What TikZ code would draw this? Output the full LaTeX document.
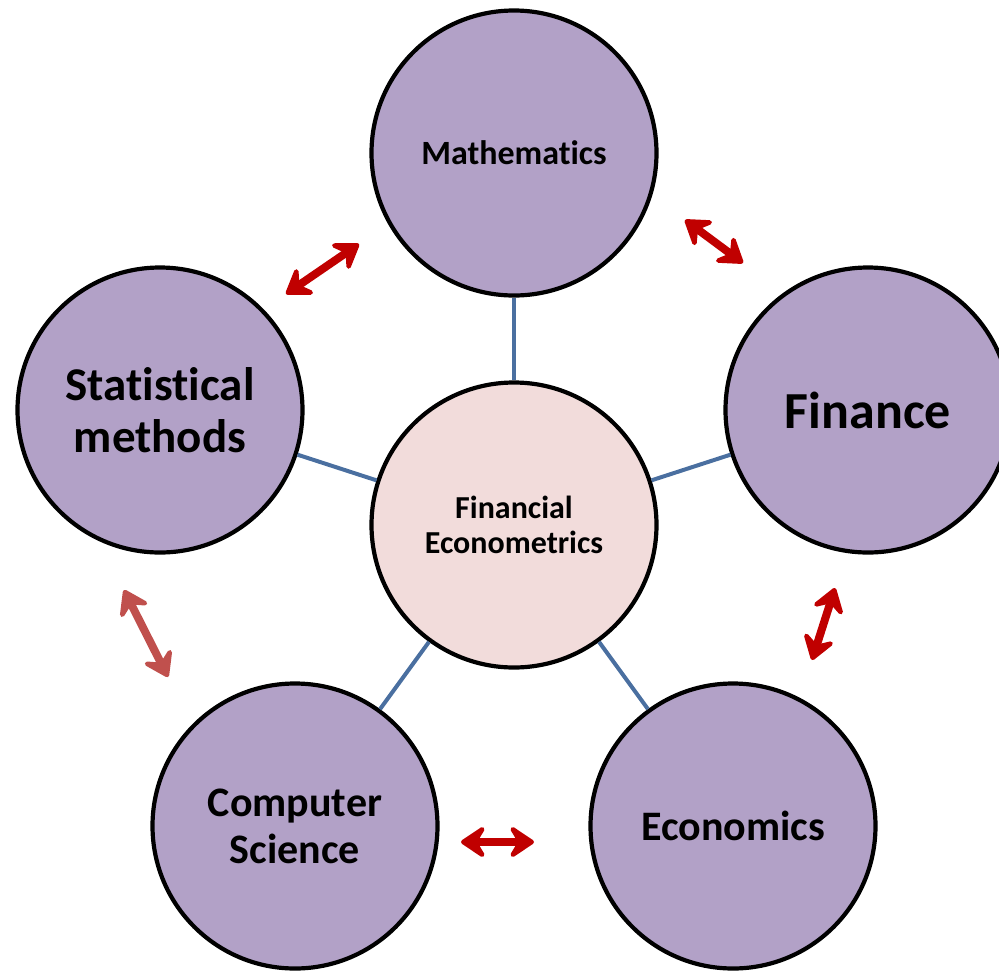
\documentclass[tikz,border=0pt]{standalone}
\usepackage{fontspec}
\setmainfont{Carlito}[Ligatures=NoCommon]
\usetikzlibrary{arrows.meta}
\definecolor{lav}{HTML}{B2A1C7}
\definecolor{pinkc}{HTML}{F2DCDB}
\definecolor{linkblue}{HTML}{4A6FA0}
\definecolor{darkred}{HTML}{C00000}
\definecolor{softred}{HTML}{C0504D}
\tikzset{
  topic/.style={circle, draw=black, line width=4.2pt, fill=lav, minimum size=285pt, inner sep=0pt, align=center},
  hub/.style={topic, fill=pinkc},
  link/.style={draw=linkblue, line width=4pt},
  redtip/.tip={Stealth[length=30pt,width=40pt,inset=12pt,round]},
  dbl/.style={line width=8pt, draw=darkred, redtip-redtip},
}
\begin{document}
\begin{tikzpicture}[x=1pt,y=-1pt]
\useasboundingbox (0,0) rectangle (999,970);
\node[hub, font={\bfseries\fontsize{32}{35}\selectfont}] (fe) at (514,525) {Financial\\Econometrics};
\node[topic, font={\bfseries\fontsize{34}{38}\selectfont}] (math) at (514,153) {Mathematics};
\node[topic, font={\bfseries\fontsize{47}{52}\selectfont}] (stat) at (160,410) {Statistical\\methods};
\node[topic, font={\bfseries\fontsize{52}{56}\selectfont}] (fin) at (868,410) {Finance};
\node[topic, font={\bfseries\fontsize{42}{47}\selectfont}] (cs) at (295,826) {Computer\\Science};
\node[topic, font={\bfseries\fontsize{42}{46}\selectfont}] (eco) at (733,826) {Economics};
\draw[link] (fe) -- (math);
\draw[link] (fe) -- (stat);
\draw[link] (fe) -- (fin);
\draw[link] (fe) -- (cs);
\draw[link] (fe) -- (eco);
\coordinate (a1) at (286,294); \coordinate (b1) at (359,244);
\coordinate (a2) at (685,220); \coordinate (b2) at (743,263);
\coordinate (a3) at (124,590); \coordinate (b3) at (168,677);
\coordinate (a4) at (835,588); \coordinate (b4) at (812,660);
\coordinate (a5) at (461,842); \coordinate (b5) at (534,842);
\draw[dbl] (a1) -- (b1);
\draw[dbl] (a2) -- (b2);
\draw[dbl, draw=softred] (a3) -- (b3);
\draw[dbl] (a4) -- (b4);
\draw[dbl] (a5) -- (b5);
\end{tikzpicture}
\end{document}
